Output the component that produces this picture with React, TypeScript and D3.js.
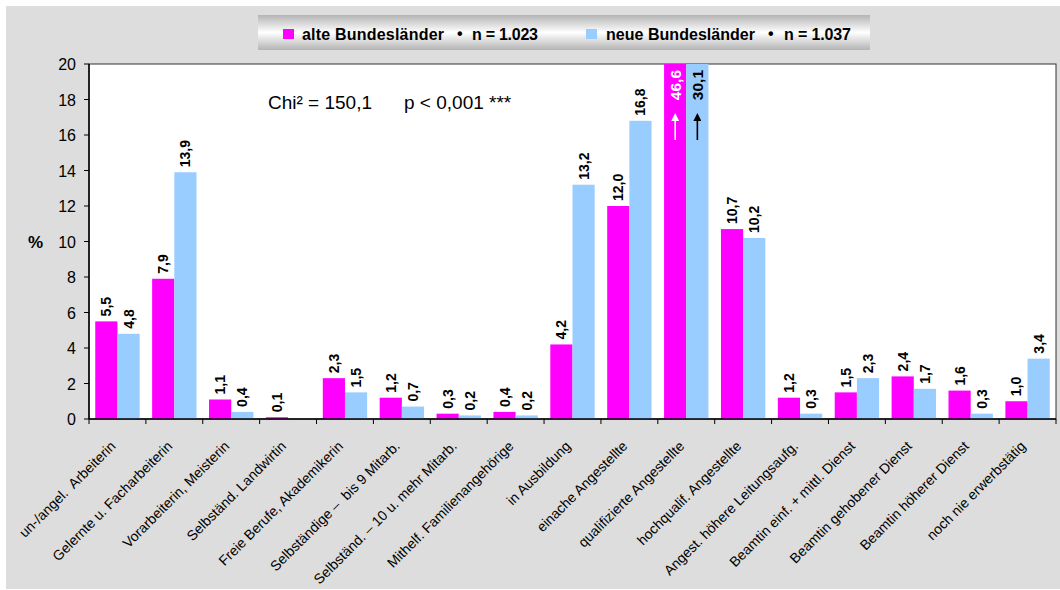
import React from "react";
import * as d3 from "d3";

const categories = [
  "un-/angel.  Arbeiterin",
  "Gelernte u. Facharbeiterin",
  "Vorarbeiterin, Meisterin",
  "Selbständ. Landwirtin",
  "Freie Berufe, Akademikerin",
  "Selbständige –  bis 9 Mitarb.",
  "Selbständ. – 10 u. mehr Mitarb.",
  "Mithelf. Familienangehörige",
  "in Ausbildung",
  "einache Angestellte",
  "qualifizierte Angestellte",
  "hochqualif. Angestellte",
  "Angest. höhere Leitungsaufg.",
  "Beamtin einf. + mittl. Dienst",
  "Beamtin gehobener Dienst",
  "Beamtin höherer Dienst",
  "noch nie erwerbstätig",
];
const alte: (number | null)[] = [5.5, 7.9, 1.1, 0.1, 2.3, 1.2, 0.3, 0.4, 4.2, 12.0, 46.6, 10.7, 1.2, 1.5, 2.4, 1.6, 1.0];
const neue: (number | null)[] = [4.8, 13.9, 0.4, null, 1.5, 0.7, 0.2, 0.2, 13.2, 16.8, 30.1, 10.2, 0.3, 2.3, 1.7, 0.3, 3.4];
const yTicks = [0, 2, 4, 6, 8, 10, 12, 14, 16, 18, 20];
const seriesNames = ["alte Bundesländer", "neue Bundesländer"];
const seriesN = ["n = 1.023", "n = 1.037"];
const statChi = "Chi² = 150,1";
const statP = "p < 0,001 ***";

const W = 1060, H = 590;
const L = 89, R = 1056, T = 64, B = 419;
const FONT = "Arial, 'Liberation Sans', sans-serif";
const C1 = "#ff00ff", C2 = "#99ccff";

export default function App() {
  const x = d3.scaleBand<string>().domain(categories).range([L, R]).paddingInner(0.22).paddingOuter(0.11);
  const xc = d3.scaleBand<string>().domain(categories).range([L, R]);
  const y = d3.scaleLinear().domain([0, 20]).range([B, T]).clamp(true);
  const bw = x.bandwidth() / 2;
  const fmt = (v: number) => v.toFixed(1).replace(".", ",");
  const series = [
    { vals: alte, color: C1, off: 0, arrowColor: "#fff" },
    { vals: neue, color: C2, off: bw, arrowColor: "#000" },
  ];
  const legendItems = [
    { color: C1, sx: 283, tx: 302, tl: 142, bx: 457, nx: 472, nl: 66 },
    { color: C2, sx: 586, tx: 606, tl: 149, bx: 768, nx: 784, nl: 67 },
  ];
  return (
    <svg width={W} height={H} style={{ position: "absolute", left: 0, top: 0 }}>
      <defs>
        <linearGradient id="lg" x1="0" y1="0" x2="0" y2="1">
          <stop offset="0" stopColor="#b4b4b4" />
          <stop offset="0.5" stopColor="#ffffff" />
          <stop offset="1" stopColor="#b4b4b4" />
        </linearGradient>
        <marker id="ahW" viewBox="0 0 10 10" refX="5" refY="5" markerWidth="5" markerHeight="5" orient="auto">
          <path d="M0,0 L10,5 L0,10 z" fill="#fff" />
        </marker>
        <marker id="ahB" viewBox="0 0 10 10" refX="5" refY="5" markerWidth="5" markerHeight="5" orient="auto">
          <path d="M0,0 L10,5 L0,10 z" fill="#000" />
        </marker>
      </defs>
      <rect x={0} y={0} width={W} height={H} fill="#fff" />
      <rect x={6} y={6} width={W - 6} height={H - 7} fill="#dddddd" />
      {/* legend */}
      <rect x={258} y={15} width={612} height={35} fill="url(#lg)" />
      {legendItems.map((it, i) => (
        <g key={i} fontFamily={FONT} fontWeight="bold" fontSize={16} fill="#000">
          <rect x={it.sx} y={29} width={11} height={10} fill={it.color} />
          <text x={it.tx} y={40} textLength={it.tl} lengthAdjust="spacing">{seriesNames[i]}</text>
          <text x={it.bx} y={39}>•</text>
          <text x={it.nx} y={40} textLength={it.nl} lengthAdjust="spacing">{seriesN[i]}</text>
        </g>
      ))}
      {/* plot area */}
      <rect x={L} y={T} width={R - L} height={B - T} fill="#fff" stroke="#333" strokeWidth={1} />
      <text x={268} y={109} fontFamily={FONT} fontSize={19} fill="#000">{statChi}</text>
      <text x={404} y={109} fontFamily={FONT} fontSize={19} fill="#000">{statP}</text>
      {series.map((s, si) =>
        categories.map((c, i) => {
          const v = s.vals[i];
          if (v == null) return null;
          const bx = (x(c) as number) + s.off;
          const top = y(v);
          const cx = bx + bw / 2;
          const clipped = v > 20;
          return (
            <g key={`${si}-${i}`}>
              <rect x={bx} y={top} width={bw} height={B - top} fill={s.color} />
              {clipped ? (
                <g>
                  <text transform={`translate(${cx + 5.5},${top + 6}) rotate(-90)`} textAnchor="end" fontFamily={FONT} fontWeight="bold" fontSize={15.5} fill={s.arrowColor}>{fmt(v)}</text>
                  <line x1={cx} y1={top + 76} x2={cx} y2={top + 53} stroke={s.arrowColor} strokeWidth={1.6} markerEnd={si === 0 ? "url(#ahW)" : "url(#ahB)"} />
                </g>
              ) : (
                <text transform={`translate(${cx + 5},${top - 5}) rotate(-90)`} textAnchor="start" fontFamily={FONT} fontWeight="bold" fontSize={14} fill="#000">{fmt(v)}</text>
              )}
            </g>
          );
        })
      )}
      {/* axes */}
      <line x1={L} y1={T} x2={L} y2={B} stroke="#000" strokeWidth={1.5} />
      <line x1={L} y1={B} x2={R} y2={B} stroke="#000" strokeWidth={1.5} />
      {yTicks.map((t) => (
        <g key={t}>
          <line x1={L - 5} x2={L} y1={y(t)} y2={y(t)} stroke="#000" />
          <text x={L - 13} y={y(t) + 6} textAnchor="end" fontFamily={FONT} fontSize={16} fill="#000">{t}</text>
        </g>
      ))}
      {categories.map((c, i) => (
        <line key={"t" + i} x1={(xc(c) as number)} x2={(xc(c) as number)} y1={B} y2={B + 5} stroke="#000" />
      ))}
      <line x1={R} x2={R} y1={B} y2={B + 5} stroke="#000" />
      <text x={28} y={248} fontFamily={FONT} fontWeight="bold" fontSize={17} fill="#000">%</text>
      {categories.map((c, i) => {
        const cx = (xc(c) as number) + xc.bandwidth() / 2;
        return (
          <text key={"l" + i} transform={`translate(${cx - 1},${B + 28}) rotate(-45)`} textAnchor="end" fontFamily={FONT} fontSize={14} fill="#000" style={{ whiteSpace: "pre" }}>{c}</text>
        );
      })}
    </svg>
  );
}
